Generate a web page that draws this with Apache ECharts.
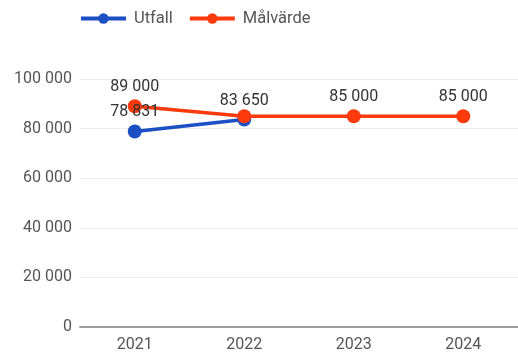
<!DOCTYPE html>
<html><head><meta charset="utf-8">
<script src="https://cdn.jsdelivr.net/npm/echarts@6/dist/echarts.min.js"></script>
<style>html,body{margin:0;padding:0;background:#fff}#c{width:518px;height:354px}</style>
</head><body><div id="c"></div>
<script>
const categories = ['2021', '2022', '2023', '2024'];
const utfall = [78831, 83650, null, null];
const malvarde = [89000, 85000, 85000, 85000];
const yTicks = [0, 20000, 40000, 60000, 80000, 100000];
const hiddenMalLabels = [1];

const fmt = v => String(v).replace(/\B(?=(\d{3})+(?!\d))/g, ' ');
const chart = echarts.init(document.getElementById('c'), null, {renderer: 'canvas'});
const font = 'Roboto';
chart.setOption({
  animation: false,
  textStyle: {fontFamily: font},
  legend: {
    left: 79, top: 10, padding: 0, itemWidth: 45, itemHeight: 13, itemGap: 15,
    lineStyle: {width: 4},
    textStyle: {fontSize: 16.5, color: '#555', fontFamily: font, padding: [0, 0, 0, 3]},
    data: ['Utfall', 'Målvärde']
  },
  grid: {left: 80, right: -7, top: 79, bottom: 27, containLabel: false},
  xAxis: {
    type: 'category', data: categories, boundaryGap: true,
    axisLine: {lineStyle: {color: '#9e9e9e', width: 2}},
    axisTick: {show: false},
    axisLabel: {fontSize: 16, color: '#555', margin: 10, fontFamily: font}
  },
  yAxis: {
    type: 'value', min: yTicks[0], max: yTicks[yTicks.length - 1], interval: 20000,
    axisLine: {show: false}, axisTick: {show: false},
    splitLine: {lineStyle: {color: '#ececec', width: 1}},
    axisLabel: {fontSize: 16, color: '#555', margin: 8, formatter: fmt, fontFamily: font}
  },
  series: [
    {
      name: 'Utfall', type: 'line', data: utfall, connectNulls: false,
      symbol: 'circle', symbolSize: 14,
      itemStyle: {color: '#1d4fc4'}, lineStyle: {width: 3.5, color: '#1d4fc4'},
      label: {show: true, position: 'top', distance: 4, fontSize: 16, color: '#333', formatter: p => fmt(p.value), fontFamily: font}
    },
    {
      name: 'Målvärde', type: 'line',
      data: malvarde.map((v, i) => hiddenMalLabels.includes(i) ? {value: v, label: {show: false}} : v),
      symbol: 'circle', symbolSize: 14,
      itemStyle: {color: '#fc3a0c'}, lineStyle: {width: 3.5, color: '#fc3a0c'},
      label: {show: true, position: 'top', distance: 4, fontSize: 16, color: '#333', formatter: p => fmt(p.value), fontFamily: font}
    }
  ]
});
</script></body></html>
